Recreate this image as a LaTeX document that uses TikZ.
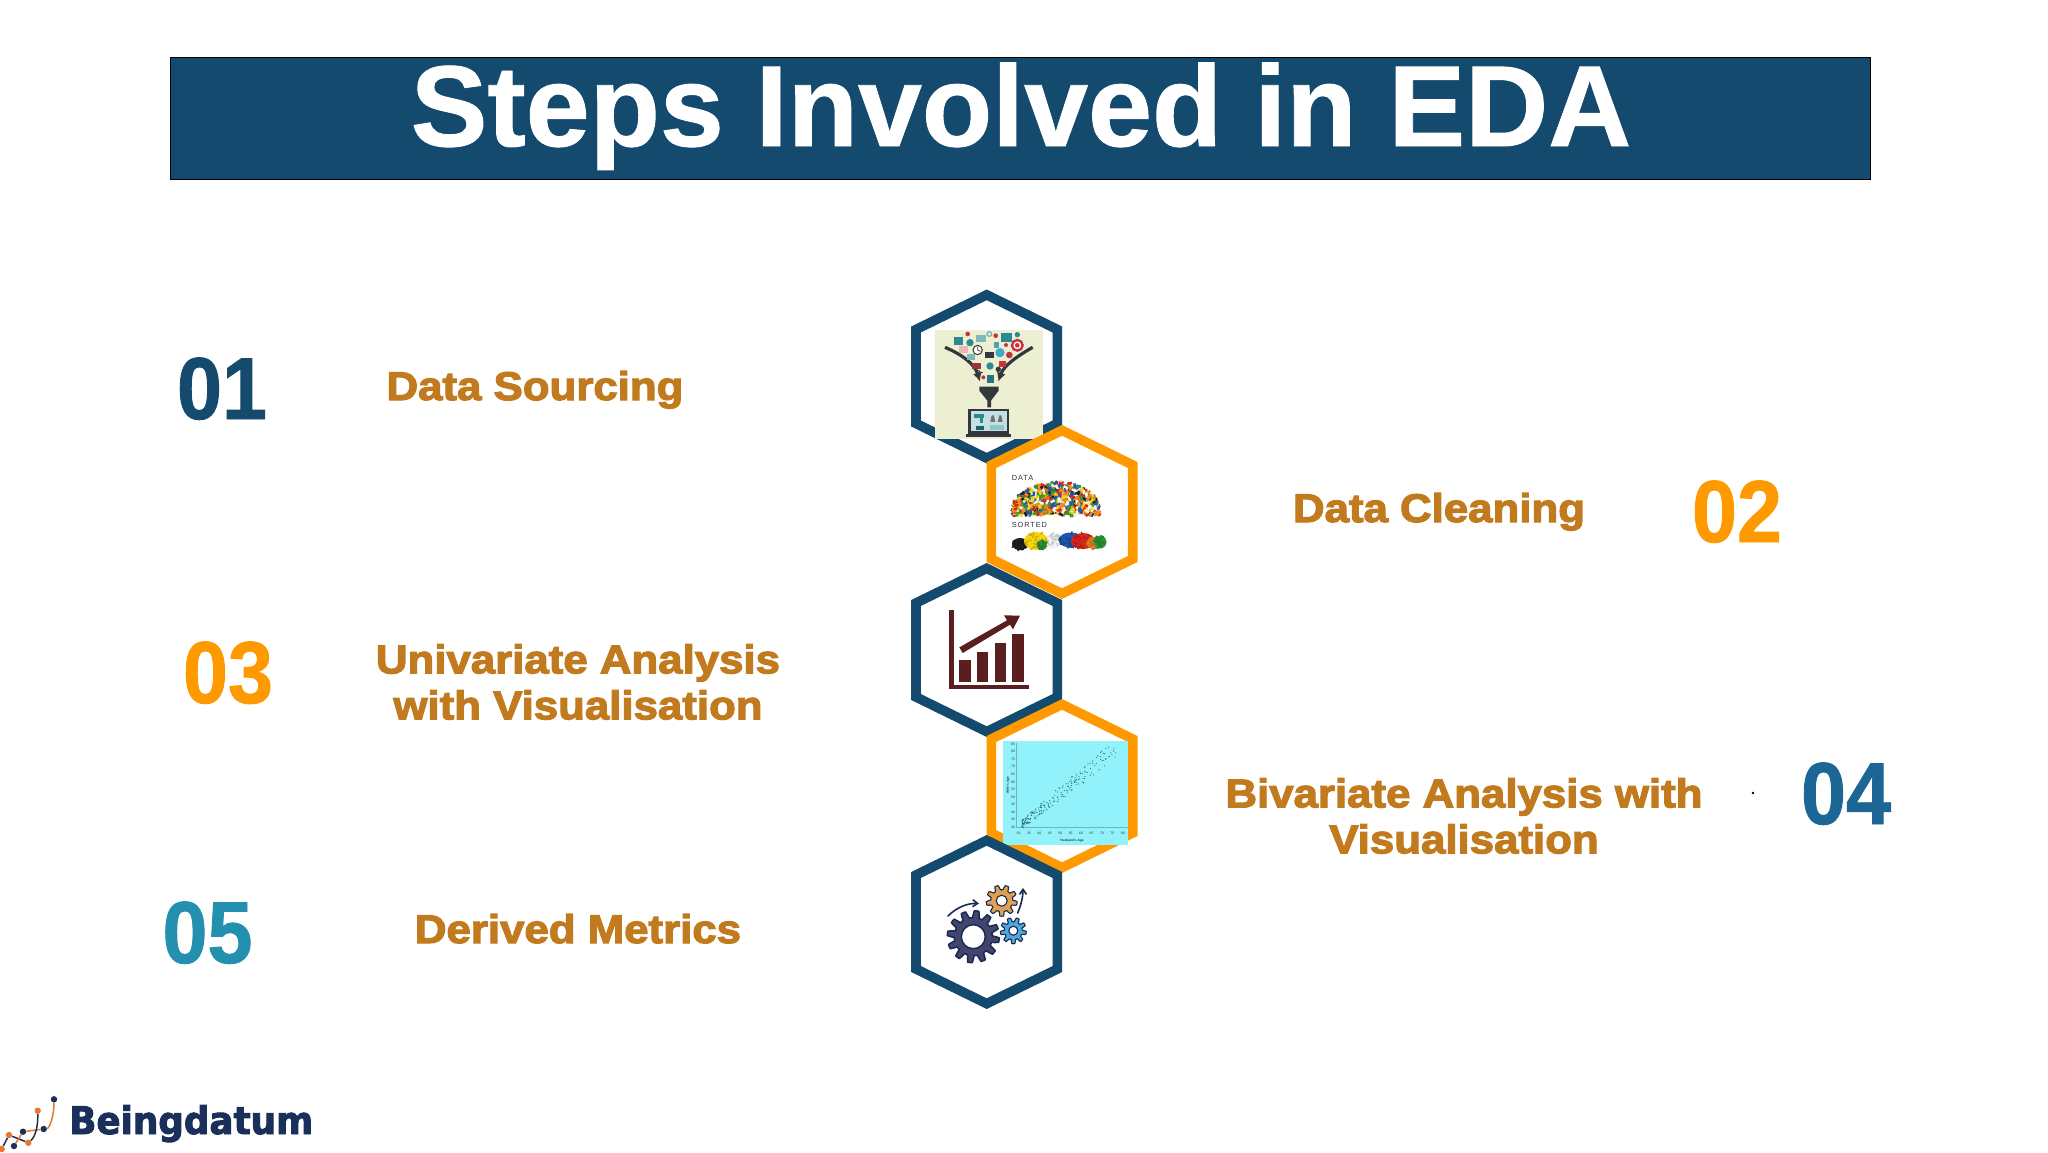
\documentclass[tikz,border=0pt]{standalone}
\usepackage{fontspec}
\usetikzlibrary{arrows.meta}
\setmainfont{Liberation Sans}
\newfontfamily\titlefont[BoldFeatures={FakeBold=0.8}]{Liberation Sans}
\newfontfamily\labfont[BoldFeatures={FakeBold=3,FakeStretch=1.095}]{Liberation Sans}
\newfontfamily\numfont[BoldFeatures={FakeBold=1,FakeStretch=0.92}]{Liberation Sans}
\newfontfamily\logofont[BoldFeatures={FakeBold=2.5,FakeStretch=0.94}]{DejaVu Sans}
\definecolor{navy}{HTML}{134A6E}
\definecolor{amber}{HTML}{FF9900}
\definecolor{ochre}{HTML}{C17A1D}
\definecolor{steel}{HTML}{1B6695}
\definecolor{teal}{HTML}{2390B0}
\definecolor{logoblue}{HTML}{1A2F5A}
\definecolor{logoorange}{HTML}{E8762C}
\definecolor{maroon}{HTML}{5A1E1E}
\definecolor{paper}{HTML}{EDEFD3}
\definecolor{aqua}{HTML}{91F2FB}
\definecolor{ico}{HTML}{2A8A92}
\definecolor{icored}{HTML}{C8323C}
\definecolor{dark}{HTML}{33383C}
\definecolor{screenc}{HTML}{C4E0E2}
\definecolor{globec}{HTML}{3FA9C9}
\definecolor{scatc}{HTML}{2F6F7E}
\definecolor{gearbig}{HTML}{44456E}
\definecolor{gearmid}{HTML}{E0A050}
\definecolor{gearsmall}{HTML}{4FA8DC}
\definecolor{brick0}{HTML}{D8261C}
\definecolor{brick1}{HTML}{F6D50F}
\definecolor{brick2}{HTML}{1E56B0}
\definecolor{brick3}{HTML}{2E9A3A}
\definecolor{brick4}{HTML}{F08A1E}
\definecolor{brick5}{HTML}{F4F4F4}
\definecolor{brick6}{HTML}{202020}
\tikzset{
  lab/.style={font=\labfont\bfseries\fontsize{40}{46}\selectfont, text=ochre, align=center, inner sep=0pt},
  num/.style={font=\numfont\bfseries\fontsize{88}{88}\selectfont, inner sep=0pt, anchor=base},
  tiny/.style={font=\fontsize{3.4}{4}\selectfont, inner sep=0pt, text=black!80},
  ldot/.style={circle, inner sep=0pt, minimum size=6.4pt},
  legolab/.style={font=\addfontfeatures{LetterSpace=12}\fontsize{7.4}{8}\selectfont, text=black!80, inner sep=0pt, anchor=base west},
}
% centre x, centre y, colour
\newcommand\hexa[3]{\draw[line width=9.6pt, #3, miter limit=6, fill=white]
  (#1,#2-81.65) -- (#1+70.7,#2-47) -- (#1+70.7,#2+47) -- (#1,#2+81.65)
  -- (#1-70.7,#2+47) -- (#1-70.7,#2-47) -- cycle;}
% cx, cy, outer r, tooth h, teeth, fill, hole r, outline width
\newcommand\cog[8]{\draw[fill=#6, draw=logoblue!90!black, line width=#8, line join=round]
  plot[domain=0:360, samples=#5*12+1] ({#1+(#3-#4/2+#4/2*max(min(2.5*sin(#5*\x),1),-1))*cos(\x)},
     {#2+(#3-#4/2+#4/2*max(min(2.5*sin(#5*\x),1),-1))*sin(\x)}) -- cycle;
  \draw[fill=white, draw=logoblue!90!black, line width=#8] (#1,#2) circle (#7);}
\begin{document}
\begin{tikzpicture}[x=1pt,y=-1pt]
\useasboundingbox (0,0) rectangle (2048,1152);
\fill[white] (0,0) rectangle (2048,1152);

% title
\node[draw=black, line width=1pt, fill=navy, minimum width=1700pt, minimum height=122pt, inner sep=0pt, anchor=north west] (banner) at (169.5,56.5) {};
\node[font=\titlefont\bfseries\fontsize{115}{115}\selectfont, text=white, inner sep=0pt, anchor=base] (title) at (1021,146) {Steps Involved in EDA};

% hexagons and pictures, from the back forward
\hexa{986.7}{376.5}{navy}
% funnel picture
\begin{scope}[shift={(880,270)}, x=0.3333pt, y=-0.3333pt]
  \fill[paper] (165,180) rectangle (490,507);
  \draw[dark, line width=3.2pt, -{Latex[length=9pt,width=9pt]}] (195,232) .. controls (250,255) and (285,285) .. (300,335);
  \draw[dark, line width=3.2pt, -{Latex[length=9pt,width=9pt]}] (458,232) .. controls (405,262) and (370,290) .. (355,335);
  \fill[dark] (298,350) -- (356,350) -- (356,362) -- (333,392) -- (333,412) -- (322,412) -- (322,392) -- (298,362) -- cycle;
  \fill[dark] (265,416) rectangle (387,492);
  \fill[screenc] (273,424) rectangle (380,484);
  \fill[dark] (258,492) rectangle (394,500);
  \fill[ico] (283,433) rectangle (312,445);
  \fill[ico] (300,445) rectangle (308,458);
  \fill[dark!70] (335,436) -- (342,436) -- (346,456) -- (331,456) -- cycle;
  \fill[dark!70] (358,436) -- (364,436) -- (368,456) -- (353,456) -- cycle;
  \fill[ico!70!black] (287,468) rectangle (312,480);
  \fill[ico!50] (330,466) rectangle (372,480);
  % scattered small icons
  \fill[ico] (223,200) rectangle (250,225);
  \fill[ico] (270,218) circle (11);
  \fill[ico!60] (287,195) rectangle (318,215);
  \fill[ico] (362,188) rectangle (397,215);
  \fill[ico] (412,194) circle (8);
  \fill[icored] (263,192) circle (7);
  \fill[icored] (347,197) circle (7);
  \fill[icored] (378,225) circle (6);
  \fill[icored] (310,322) circle (6);
  \draw[ico!70, line width=1.2pt] (328,192) circle (7);
  \draw[icored, line width=2.4pt, fill=white] (412,226) circle (16);
  \fill[icored] (412,226) circle (7);
  \draw[dark, line width=1pt, fill=white] (293,240) circle (14);
  \draw[dark, line width=.8pt] (293,230) -- (293,240) -- (301,244);
  \fill[icored!35] (236,228) rectangle (265,248);
  \fill[ico!60] (262,252) rectangle (284,270);
  \fill[dark] (314,246) rectangle (342,264);
  \fill[ico!80] (341,215) rectangle (358,235);
  \fill[globec] (360,248) circle (14);
  \fill[icored] (388,255) circle (10);
  \fill[icored!70!dark] (275,278) rectangle (302,298);
  \fill[ico] (330,288) circle (11);
  \fill[icored] (357,272) rectangle (378,292);
  \fill[dark] (355,298) circle (8);
  \draw[dark, line width=1pt] (296,300) arc (180:60:8);
  \fill[ico!85!black] (322,315) rectangle (342,340);
\end{scope}

\hexa{986.7}{650}{navy}
\hexa{1062}{512}{amber}
% bricks picture
\node[legolab] (datalab) at (1011.7,480) {DATA};
\node[legolab] (sortlab) at (1011.7,527) {SORTED};
\pgfmathsetseed{17}
\fill[brick4!80!brick0] (1014,511) .. controls (1020,492) and (1040,482) .. (1058,482) .. controls (1080,483) and (1096,495) .. (1100,511) -- (1085,514) -- (1030,514) -- cycle;
\foreach \i in {1,...,620}{
  \pgfmathsetmacro\u{2*rnd-1}
  \pgfmathsetmacro\px{1056+43*\u}
  \pgfmathsetmacro\py{515-33*rnd*sqrt(1-0.9*\u*\u)}
  \pgfmathtruncatemacro\k{int(rnd*6.5)}
  \pgfmathsetmacro\r{rnd*180}
  \fill[brick\k, rotate around={\r:(\px,\py)}] (\px-2.3,\py-1.2) rectangle (\px+2.3,\py+1.2);
}
\foreach \cx/\cy/\rx/\ry/\k in {1020/544/8/6/6, 1053/541/8/8/5, 1036/541/12/9/1, 1042/545/5/5/3, 1070/540/11/7.5/2, 1083/541/12/8/0, 1093/543/6/6/4, 1100/542/6.5/6.5/3}{
  \fill[brick\k] (\cx,\cy) ellipse ({\rx} and {\ry});
  \foreach \i in {1,...,26}{
    \pgfmathsetmacro\a{rnd*360}
    \pgfmathsetmacro\q{sqrt(rnd)}
    \pgfmathsetmacro\px{\cx+\rx*\q*cos(\a)}
    \pgfmathsetmacro\py{\cy+\ry*\q*sin(\a)}
    \pgfmathsetmacro\r{rnd*180}
    \fill[brick\k!82!black, rotate around={\r:(\px,\py)}] (\px-1.6,\py-.7) rectangle (\px+1.6,\py+.7);
  }
}

% bar chart
\begin{scope}[shift={(880,560)}, x=0.3333pt, y=-0.3333pt]
  \fill[maroon] (208,150) rectangle (222,387);
  \fill[maroon] (208,375) rectangle (447,387);
  \fill[maroon] (238,300) rectangle (272,365);
  \fill[maroon] (291,275) rectangle (325,365);
  \fill[maroon] (344,248) rectangle (378,365);
  \fill[maroon] (397,222) rectangle (431,365);
  \fill[maroon] (238,262) -- (381,181) -- (372,166) -- (420,167) -- (399,208) -- (390,194) -- (248,279) -- cycle;
\end{scope}

\hexa{1062}{786}{amber}
% scatter picture
\fill[aqua] (1003.3,741) rectangle (1128,844.7);
\draw[aqua!75!black, line width=.4pt] (1016,743) -- (1016,827) -- (1128,827);
\foreach \v [count=\j from 0] in {85,80,75,70,65,60,55,50,45,40,35,30}{
  \node[tiny] (yt\j) at (1013,{744+\j*7.58}) {\v};
}
\foreach \v [count=\j from 0] in {30,35,40,45,50,55,60,65,70,75,80}{
  \node[tiny] (xt\j) at ({1018.5+\j*10.43},833) {\v};
}
\node[tiny, font=\bfseries\fontsize{3.2}{4}\selectfont, rotate=90] (ylab) at (1008,785) {Wife's Age};
\node[tiny, font=\bfseries\fontsize{3.2}{4}\selectfont] (xlab) at (1072,840.5) {Husband's Age};
\pgfmathsetseed{5}
\foreach \i in {1,...,220}{
  \pgfmathsetmacro\t{pow(rnd,1.7)}
  \pgfmathsetmacro\px{1022+95*\t}
  \pgfmathsetmacro\py{824-76*\t+(rnd-0.5)*(9+12*\t)}
  \fill[scatc] (\px,\py) circle (0.6);
}

\hexa{986.7}{922}{navy}
% gears
\cog{973.3}{936.7}{26}{7}{12}{gearbig}{12}{1.5pt}
\cog{1001.7}{900.7}{15.5}{4.5}{9}{gearmid}{5.5}{1.1pt}
\cog{1013.3}{930.7}{13}{4}{9}{gearsmall}{4.5}{1.1pt}
\draw[logoblue!90!black, line width=1.6pt, line cap=round, -{Straight Barb[length=5pt,width=7pt]}] (948,916) .. controls (957,907) and (968,903) .. (979,903.5);
\draw[logoblue!90!black, line width=1.6pt, line cap=round, -{Straight Barb[length=5pt,width=7pt]}] (1017.7,913) .. controls (1021,905) and (1023,897) .. (1023,888);

% numbers
\node[num, text=navy]  (n1) at (222,419) {01};
\node[num, text=amber] (n2) at (1737,542) {02};
\node[num, text=amber] (n3) at (228,703) {03};
\node[num, text=steel] (n4) at (1846,824) {04};
\node[num, text=teal]  (n5) at (207.5,963) {05};

% labels
\node[lab, anchor=base] (l1) at (535,400) {Data Sourcing};
\node[lab, anchor=base] (l2) at (1439,522) {Data Cleaning};
\node[lab] (l3) at (578,682) {Univariate Analysis\\with Visualisation};
\node[lab] (l4) at (1464,816) {Bivariate Analysis with\\Visualisation};
\node[lab, anchor=base] (l5) at (578,943) {Derived Metrics};
\fill[black] (1753,793) circle (1.3);

% logo
\node[font=\logofont\bfseries\fontsize{38}{40}\selectfont, text=logoblue, inner sep=0pt, anchor=base west] (brand) at (69,1134) {Beingdatum};
\node[ldot, fill=logoblue]   (d1) at (54,1099.3) {};
\node[ldot, fill=logoorange] (d2) at (37.7,1110.7) {};
\node[ldot, fill=logoblue]   (d3) at (43.7,1129) {};
\node[ldot, fill=logoblue]   (d4) at (23,1131.7) {};
\node[ldot, fill=logoorange] (d5) at (9,1135) {};
\node[ldot, fill=logoblue]   (d6) at (14,1146) {};
\node[ldot, fill=logoorange] (d7) at (28.3,1142.7) {};
\node[ldot, fill=logoorange] (d8) at (1.7,1149) {};
\draw[logoorange, line width=1.5pt] (d1) .. controls (54,1115) and (50,1128) .. (d3) -- (d4);
\draw[logoblue, line width=1.5pt] (d2) .. controls (38,1125) and (36,1136) .. (d7);
\draw[logoblue, line width=1.5pt] (d5) -- (d7);
\draw[logoorange, line width=1.5pt] (d4) -- (d6);
\draw[logoblue, line width=1.5pt] (d5) -- (d8);
\end{tikzpicture}
\end{document}
